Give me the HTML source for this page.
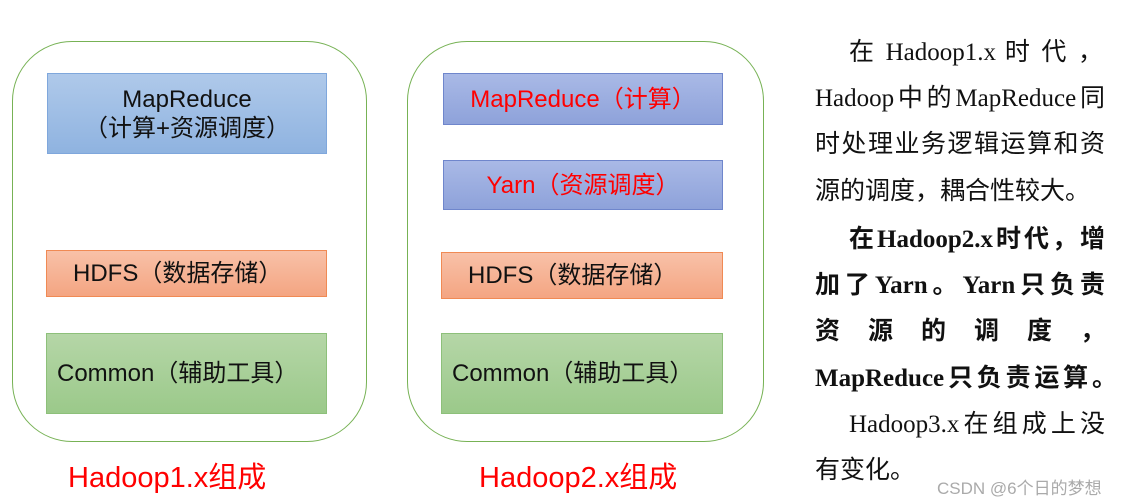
<!DOCTYPE html>
<html><head><meta charset="utf-8"><style>
body{margin:0;width:1135px;height:504px;background:#fff;position:relative;overflow:hidden;font-family:"Liberation Sans","Noto Sans CJK SC",sans-serif}
.c{position:absolute;border:1.5px solid #77b255;border-radius:60px;box-sizing:border-box}
.b{position:absolute;box-sizing:border-box;display:flex;align-items:center;justify-content:center;text-align:center;font-size:24px;color:#111;line-height:29px}
.blue{background:linear-gradient(#afc9ea,#8fb3e0);border:1.5px solid #7fa7dc}
.dblue{background:linear-gradient(#a9b9e6,#8ea2da);border:1.5px solid #6f86cc;color:#f00}
.or{background:linear-gradient(#f8c1a8,#f4a582);border:1.5px solid #f08a54}
.gr{background:linear-gradient(#b5d6a7,#9bc98a);border:1.5px solid #8dc07a}
.lab{position:absolute;color:#f00;font-size:29px;top:454px}
.t{position:absolute;left:815px;width:290px;font-family:"Liberation Serif","Noto Sans CJK SC",serif;font-size:25px;line-height:30px;color:#111;white-space:nowrap}
.j{text-align:justify;text-align-last:justify}
.bd{font-weight:bold}
</style></head><body>
<div class="c" style="left:12px;top:41px;width:355px;height:401px"></div>
<div class="c" style="left:407px;top:41px;width:357px;height:401px"></div>
<div class="b blue" style="left:47px;top:73px;width:280px;height:81px">MapReduce<br>（计算+资源调度）</div>
<div class="b or" style="left:46px;top:250px;width:281px;height:47px;justify-content:flex-start;padding-left:26px">HDFS（数据存储）</div>
<div class="b gr" style="left:46px;top:333px;width:281px;height:81px;justify-content:flex-start;padding-left:10px">Common（辅助工具）</div>
<div class="b dblue" style="left:443px;top:73px;width:280px;height:52px">MapReduce（计算）</div>
<div class="b dblue" style="left:443px;top:160px;width:280px;height:50px">Yarn（资源调度）</div>
<div class="b or" style="left:441px;top:252px;width:282px;height:47px;justify-content:flex-start;padding-left:26px">HDFS（数据存储）</div>
<div class="b gr" style="left:441px;top:333px;width:282px;height:81px;justify-content:flex-start;padding-left:10px">Common（辅助工具）</div>
<div class="lab" style="left:68px">Hadoop1.x组成</div>
<div class="lab" style="left:479px">Hadoop2.x组成</div>
<div class="t j" style="top:38px;left:849px;width:254px">在 Hadoop1.x 时 代 ，</div>
<div class="t j" style="top:84px">Hadoop中的MapReduce同</div>
<div class="t j" style="top:130px">时处理业务逻辑运算和资</div>
<div class="t" style="top:177px">源的调度，耦合性较大。</div>
<div class="t j bd" style="top:225px;left:849px;width:256px">在Hadoop2.x时代，增</div>
<div class="t j bd" style="top:271px">加了Yarn。Yarn只负责</div>
<div class="t j bd" style="top:317px">资 源 的 调 度 ，</div>
<div class="t j bd" style="top:364px;width:302px">MapReduce只负责运算。</div>
<div class="t j" style="top:410px;left:849px;width:256px">Hadoop3.x在组成上没</div>
<div class="t" style="top:456px">有变化。</div>
<div style="position:absolute;left:937px;top:474px;font-size:17px;color:#aaa">CSDN @6个日的梦想</div>
</body></html>
